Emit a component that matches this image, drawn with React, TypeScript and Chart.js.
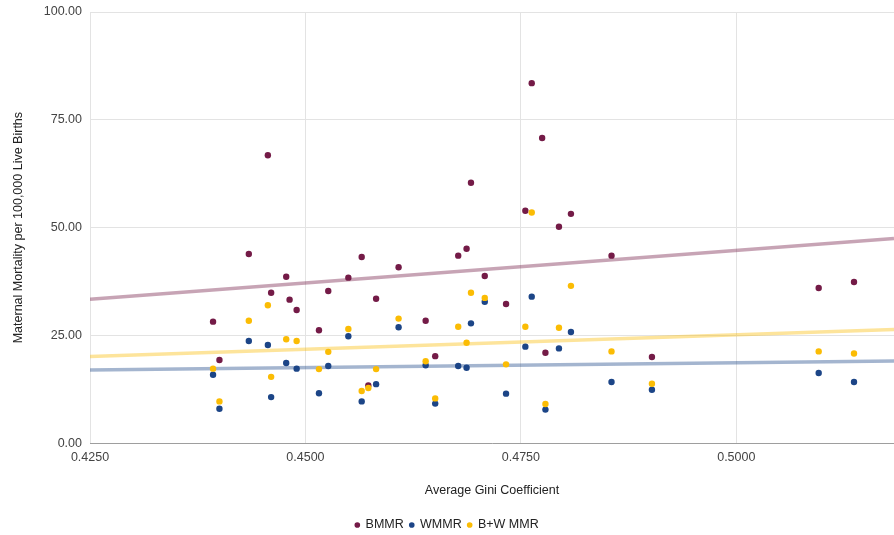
import React, { useEffect, useRef } from "react";
import { Chart, registerables } from "chart.js";

Chart.register(...registerables);

// Average Gini coefficient per state
const gini = [
  0.43928, 0.44002, 0.44343, 0.44564, 0.44602, 0.44777, 0.44816, 0.44898,
  0.45157, 0.45265, 0.45498, 0.45653, 0.4573, 0.4582, 0.46081, 0.46395,
  0.46506, 0.46773, 0.4687, 0.46921, 0.47081, 0.47328, 0.47552, 0.47626,
  0.47747, 0.47785, 0.47942, 0.48081, 0.48552, 0.49021, 0.50956, 0.51366,
];

// Black maternal mortality rate
const bmmr = [
  28.2, 19.3, 43.9, 66.8, 34.9, 38.6, 33.3, 30.9,
  26.2, 35.3, 38.4, 43.2, 13.4, 33.5, 40.8, 28.4,
  20.2, 43.5, 45.1, 60.4, 38.8, 32.3, 53.9, 83.5,
  70.8, 21.0, 50.2, 53.2, 43.5, 20.0, 36.0, 37.4,
];

// White maternal mortality rate
const wmmr: (number | null)[] = [
  15.9, 8.0, 23.7, 22.8, 10.7, 18.6, null, 17.3,
  11.6, 17.9, 24.8, 9.7, null, 13.7, 26.9, 18.1,
  9.2, 17.9, 17.5, 27.8, 32.8, 11.5, 22.4, 34.0,
  null, 7.8, 22.0, 25.8, 14.2, 12.4, 16.3, 14.2,
];

// Black + White maternal mortality rate
const bwmmr: (number | null)[] = [
  17.3, 9.7, 28.4, 32.0, 15.4, 24.1, null, 23.7,
  17.2, 21.2, 26.5, 12.1, 12.8, 17.2, 28.9, 19.0,
  10.4, 27.0, 23.3, 34.9, 33.7, 18.3, 27.0, 53.5,
  null, 9.1, 26.8, 36.5, 21.3, 13.8, 21.3, 20.8,
];

// Linear trendlines (values at the axis ends)
const trendGini = [0.425, 0.5183];
const bmmrTrend = [33.4, 47.5];
const wmmrTrend = [17.0, 19.1];
const bwmmrTrend = [20.1, 26.4];

const seriesNames = ["BMMR", "WMMR", "B+W MMR"];
const seriesColors = ["#741b47", "#1c4587", "#fbbc04"];
const trendColors = [
  "rgba(116,27,71,0.4)",
  "rgba(28,69,135,0.4)",
  "rgba(251,188,4,0.4)",
];

const xTitle = "Average Gini Coefficient";
const yTitle = "Maternal Mortality per 100,000 Live Births";

const FONT = "Arial, 'Liberation Sans', Helvetica, sans-serif";
const FS = 12.5;

function pts(ys: (number | null)[]) {
  const out: { x: number; y: number }[] = [];
  gini.forEach((x, i) => {
    const y = ys[i];
    if (y !== null && y !== undefined) out.push({ x, y });
  });
  return out;
}

function trend(ys: number[]) {
  return trendGini.map((x, i) => ({ x, y: ys[i] }));
}

export default function App() {
  const ref = useRef<HTMLCanvasElement>(null);

  useEffect(() => {
    document.body.style.margin = "0";
    const series = [bmmr, wmmr, bwmmr];
    const trends = [bmmrTrend, wmmrTrend, bwmmrTrend];
    const pointSets = series.map((s, i) => ({
      type: "scatter" as const,
      label: seriesNames[i],
      data: pts(s),
      backgroundColor: seriesColors[i],
      borderColor: seriesColors[i],
      borderWidth: 0,
      pointRadius: 3.2,
      pointHoverRadius: 3.2,
      order: 3 - i,
    }));
    const trendSets = trends.map((t, i) => ({
      type: "line" as const,
      label: seriesNames[i] + " trend",
      data: trend(t),
      borderColor: trendColors[i],
      backgroundColor: trendColors[i],
      borderWidth: 3.5,
      pointRadius: 0,
      fill: false,
      showLine: true,
      order: 10 - i,
    }));

    const chart = new Chart(ref.current!, {
      type: "scatter",
      data: { datasets: [...pointSets, ...trendSets] as any },
      options: {
        animation: false,
        responsive: false,
        layout: {
          autoPadding: false,
          padding: { top: 12, right: 0, left: 0, bottom: -6.25 },
        },
        plugins: {
          tooltip: { enabled: false },
          legend: {
            position: "bottom",
            labels: {
              filter: (item: any) => !String(item.text).endsWith("trend"),
              sort: (a: any, b: any) => a.datasetIndex - b.datasetIndex,
              usePointStyle: true,
              pointStyle: "circle",
              boxWidth: 4,
              boxHeight: 4,
              padding: 6,
              color: "#222",
              font: { family: FONT, size: FS },
            },
          },
        },
        scales: {
          x: {
            type: "linear",
            min: 0.425,
            max: 0.5183,
            ticks: {
              stepSize: 0.025,
              includeBounds: false,
              color: "#444",
              padding: 6.5,
              maxRotation: 0,
              font: { family: FONT, size: FS },
              callback: (v: any) => Number(v).toFixed(4),
            },
            grid: { color: "#e3e3e3", drawTicks: false },
            border: { color: "#9e9e9e", width: 1 },
            title: {
              display: true,
              text: xTitle,
              color: "#222",
              font: { family: FONT, size: FS },
              padding: { top: 12, bottom: 14.5 },
            },
            afterFit: (s: any) => {
              s.paddingLeft = 0;
              s.paddingRight = 0;
            },
          },
          y: {
            type: "linear",
            min: 0,
            max: 100,
            ticks: {
              stepSize: 25,
              color: "#444",
              padding: 8,
              font: { family: FONT, size: FS },
              callback: (v: any) => Number(v).toFixed(2),
            },
            grid: { color: "#e3e3e3", drawTicks: false },
            border: { display: false },
            title: {
              display: true,
              text: yTitle,
              color: "#222",
              font: { family: FONT, size: FS },
              padding: { top: 11, bottom: 0 },
            },
            afterFit: (s: any) => {
              s.width = 90;
              s.paddingTop = 0;
              s.paddingBottom = 0;
            },
          },
        },
      } as any,
    });
    return () => chart.destroy();
  }, []);

  return (
    <div style={{ width: 894, height: 535 }}>
      <canvas ref={ref} width={894} height={535} style={{ display: "block" }} />
    </div>
  );
}
